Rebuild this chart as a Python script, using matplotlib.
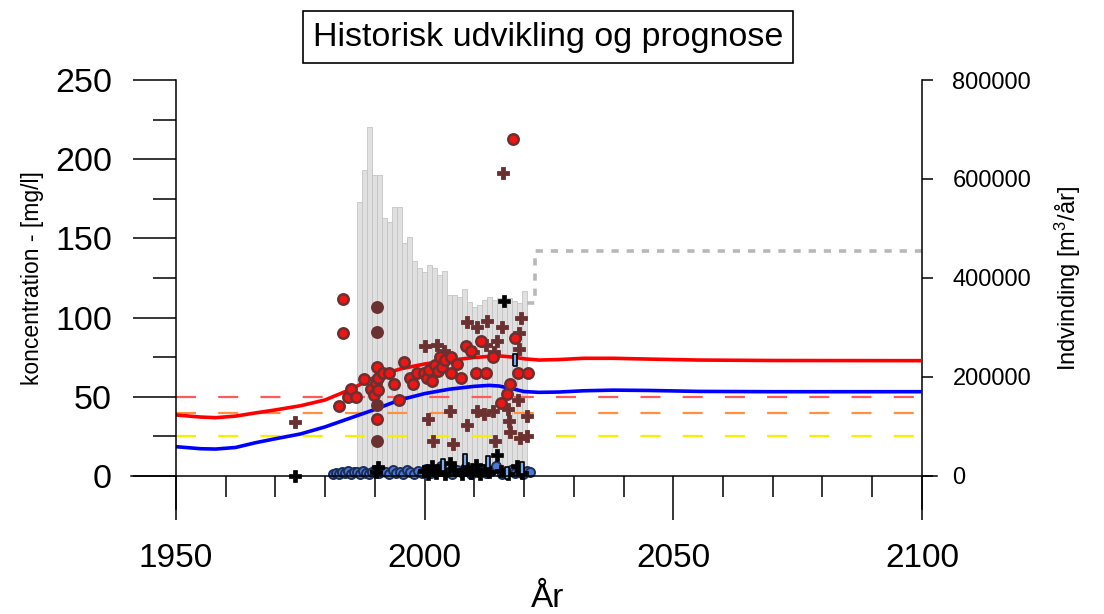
import matplotlib
matplotlib.use("Agg")
import matplotlib.pyplot as plt
import numpy as np

plt.rcParams['font.family'] = ['Liberation Sans', 'DejaVu Sans']

# modelled concentration (mg/l)
line_year = [1950, 1955, 1958, 1962, 1966, 1970, 1975, 1980, 1985, 1990, 1995,
             2000, 2005, 2010, 2013, 2015, 2018, 2020, 2023, 2027, 2032, 2038,
             2045, 2055, 2070, 2100]
red_conc = [38.5, 37.2, 36.8, 37.8, 39.8, 41.7, 44.3, 48.0, 54.5, 62.5, 67.5,
            70.7, 73.0, 74.8, 75.5, 75.8, 75.0, 74.0, 73.2, 73.5, 74.3, 74.3,
            73.8, 73.2, 72.9, 72.8]
blue_conc = [18.5, 17.2, 17.0, 18.0, 21.0, 23.5, 26.5, 31.0, 36.5, 42.0, 48.0,
             52.0, 54.8, 56.6, 57.2, 56.8, 54.8, 53.3, 52.8, 53.0, 53.8, 54.2,
             54.0, 53.4, 53.2, 53.2]

# threshold levels
limit_red = 50
limit_orange = 40
limit_yellow = 25

# abstraction per year (m3/yr)
bar_year = list(range(1987, 2021))
bar_m3 = [553500, 618200, 705000, 608100, 608100, 521200, 513100, 543400,
          543400, 470700, 482800, 434300, 420200, 412100, 426300, 420200,
          406100, 414100, 365700, 365700, 361600, 377800, 351500, 341400,
          345500, 355600, 361600, 355600, 359600, 349500, 359600, 353500,
          349500, 373700]

# planned abstraction
prog_year = [2020.5, 2022.2, 2022.2, 2100]
prog_m3 = [350000, 350000, 455000, 455000]

# measurements
circ_year = [1982.8, 1983.5, 1983.6, 1984.6, 1985.3, 1986.3, 1987.8, 1989.2,
             1989.9, 1990.3, 1990.5, 1990.5, 1990.6, 1990.7, 1991.6, 1992.9,
             1993.8, 1994.9, 1995.8, 1997.0, 1997.6, 1998.5, 1999.8, 2000.5,
             2000.8, 2001.5, 2002.0, 2002.7, 2003.0, 2003.5, 2004.2, 2005.4,
             2005.4, 2006.5, 2007.4, 2008.3, 2009.3, 2010.3, 2011.3, 2012.3,
             2013.7, 2015.3, 2016.5, 2017.2, 2017.8, 2018.2, 2018.8, 2020.8]
circ_val = [44, 90, 112, 50, 55, 50, 61, 55,
            51, 59, 36, 69, 62, 54, 65, 65,
            58, 48, 72, 62, 58, 65, 65, 62,
            67, 60, 70, 66, 75, 69, 73, 75,
            65, 71, 62, 82, 79, 65, 85, 65,
            75, 46, 52, 58, 213, 87, 65, 65]

dark_year = [1990.5, 1990.5, 1990.5, 1990.5]
dark_val = [107, 91, 45, 22]

cross_year = [1973.9, 2000.0, 2000.7, 2001.7, 2002.4, 2004.0, 2005.1, 2005.8,
              2008.5, 2008.6, 2009.7, 2010.5, 2010.5, 2012.0, 2012.3, 2012.6,
              2013.8, 2014.0, 2014.1, 2014.5, 2015.5, 2015.8, 2016.8, 2017.0,
              2017.2, 2018.8, 2019.0, 2019.0, 2019.2, 2019.3, 2020.5, 2020.5]
cross_val = [34, 82, 36, 22, 83, 79, 41, 20,
             32, 97, 78, 94, 41, 39, 83, 98,
             41, 78, 22, 85, 94, 191, 42, 35,
             28, 48, 90, 80, 24, 100, 38, 25]

black_year = [1974.0, 1990.2, 1990.6, 1999.8, 2000.6, 2001.4, 2002.3, 2003.0,
              2004.2, 2005.1, 2006.0, 2007.6, 2008.5, 2009.4, 2010.3, 2011.2,
              2012.1, 2013.0, 2014.5, 2015.4, 2016.0, 2016.8, 2018.5, 2019.5]
black_val = [0.0, 2.5, 5.5, 3.0, 1.0, 6.0, 2.0, 4.0,
             1.5, 8.0, 3.5, 1.0, 5.0, 2.0, 7.0, 1.5,
             4.0, 2.5, 13.0, 3.0, 110.5, 1.0, 6.0, 2.0]

blue_year = [1981.5, 1982.2, 1982.8, 1983.4, 1984.0, 1984.6, 1985.2, 1985.8,
             1986.5, 1987.1, 1987.7, 1988.3, 1988.9, 1989.5, 1990.1, 1990.8,
             1991.5, 1992.2, 1992.9, 1993.6, 1994.3, 1995.0, 1995.7, 1996.4,
             1997.1, 1997.8, 1998.6, 1999.4, 2000.3, 2001.2, 2002.1, 2003.2,
             2004.4, 2005.6, 2006.5, 2007.3, 2008.2, 2009.4, 2010.6, 2011.5,
             2012.4, 2013.3, 2014.4, 2015.5, 2016.4, 2017.3, 2018.2, 2019.0,
             2019.8, 2020.6, 2021.2]
blue_val = [1.5, 2.0, 1.0, 2.5, 1.8, 3.0, 1.2, 2.2,
            2.8, 1.5, 3.2, 2.0, 1.0, 2.6, 4.0, 1.8,
            3.0, 2.2, 1.4, 3.5, 2.0, 2.8, 1.5, 3.6,
            2.4, 1.2, 3.0, 2.0, 4.5, 1.6, 3.4, 6.0,
            2.2, 1.0, 3.8, 2.6, 5.0, 1.4, 2.8, 4.2,
            1.8, 3.0, 6.5, 1.2, 2.4, 3.6, 1.6, 2.8,
            1.0, 3.4, 2.2]

rect_year = [2003.7, 2008.2, 2012.8, 2016.6, 2018.1, 2019.6]
rect_val = [7.0, 10.0, 9.0, 2.0, 73.5, 5.0]

############### figure ###############

fig = plt.figure(figsize=(11.04, 6.14), dpi=100)
ax = fig.add_axes([0.1188, 0.1603, 0.7298, 0.7223])
ax2 = ax.twinx()
ax.set_zorder(ax2.get_zorder() + 1)
ax.patch.set_visible(False)

ax.set_xlim(1941, 2103)
ax.set_ylim(-25, 255)
ax2.set_ylim(-25 * 3200, 255 * 3200)

# abstraction bars and planned abstraction on the right axis
ax2.bar(bar_year, bar_m3, width=1.0, color='#e0e0e0', edgecolor='#c4c4c4',
        linewidth=0.6)
ax2.plot(prog_year, prog_m3, color='#b8b8b8', linewidth=2.6,
         linestyle=(0, (2.0, 2.2)))

# threshold lines
dash = (0, (9.0, 10.0))
ax.plot([1950, 2100], [limit_red, limit_red], color='#ff5a5a', linewidth=1.6,
        linestyle=dash)
ax.plot([1950, 2100], [limit_orange, limit_orange], color='#ff9040',
        linewidth=1.6, linestyle=dash)
ax.plot([1950, 2100], [limit_yellow, limit_yellow], color='#f4f000',
        linewidth=1.6, linestyle=dash)

ax.plot(line_year, red_conc, color='#ff0000', linewidth=2.6,
        solid_capstyle='butt')
ax.plot(line_year, blue_conc, color='#0000ff', linewidth=2.6,
        solid_capstyle='butt')

# measured values
ax.plot(blue_year, blue_val, 'o', ms=6.5, mfc='#4a7ad0', mec='#1c2e5c', mew=1.4)
ax.plot(black_year, black_val, 'P', ms=8, mfc='black', mec='black', mew=0.5)
ax.plot(cross_year, cross_val, 'P', ms=9, mfc='#6b3030', mec='#6b3030', mew=0.6)
ax.plot(circ_year, circ_val, 'o', ms=7.5, mfc='#ee1515', mec='#6b3030', mew=1.8)
ax.plot(dark_year, dark_val, 'o', ms=7.5, mfc='#6b3030', mec='#6b3030', mew=1.8)
rect = [(-0.3, -1), (0.3, -1), (0.3, 1), (-0.3, 1), (-0.3, -1)]
ax.plot(rect_year, rect_val, linestyle='none', marker=rect, ms=9,
        mfc='#7aaaf0', mec='black', mew=1.2)

for a in (ax, ax2):
    for s in a.spines.values():
        s.set_visible(False)

# left axis
ax.spines['left'].set_visible(True)
ax.spines['left'].set_position(('data', 1950))
ax.spines['left'].set_bounds(-21, 250)
ax.spines['left'].set_linewidth(1.1)
ax.set_yticks([0, 50, 100, 150, 200, 250])
ax.set_yticks([25, 75, 125, 175, 225], minor=True)
ax.tick_params(axis='y', which='major', direction='out', length=31, width=1.1,
               pad=15, labelsize=24.5)
ax.tick_params(axis='y', which='minor', direction='out', length=16.5,
               width=1.1)

# bottom axis along zero
ax.spines['bottom'].set_visible(True)
ax.spines['bottom'].set_position(('data', 0))
ax.spines['bottom'].set_linewidth(1.1)
ax.set_xticks([1950, 2000, 2050, 2100])
ax.set_xticks([1960, 1970, 1980, 1990, 2010, 2020, 2030, 2040, 2060, 2070,
               2080, 2090], minor=True)
ax.tick_params(axis='x', which='major', direction='out', length=32, width=1.1,
               pad=16, labelsize=24)
ax.tick_params(axis='x', which='minor', direction='out', length=15, width=1.1)

# right axis
ax2.spines['right'].set_visible(True)
ax2.spines['right'].set_position(('data', 2100))
ax2.spines['right'].set_bounds(-21 * 3200, 800000)
ax2.spines['right'].set_linewidth(1.1)
ax2.set_yticks([0, 200000, 400000, 600000, 800000])
ax2.tick_params(axis='y', direction='out', length=8, width=1.1, pad=14,
                labelsize=17)

fig.text(0.4964, 0.9397, 'Historisk udvikling og prognose', fontsize=24.5,
         ha='center', va='center',
         bbox=dict(boxstyle='square,pad=0.3', fc='white', ec='black', lw=1.2))
fig.text(0.029, 0.547, 'koncentration - [mg/l]', fontsize=16.5, rotation=90,
         ha='center', va='center')
fig.text(0.967, 0.547, r'Indvinding [m$\mathregular{^3}$/år]', fontsize=17,
         rotation=90, ha='center', va='center')
fig.text(0.4964, 0.026, 'År', fontsize=24, ha='center', va='center')

fig.savefig('out.png', dpi=100)
